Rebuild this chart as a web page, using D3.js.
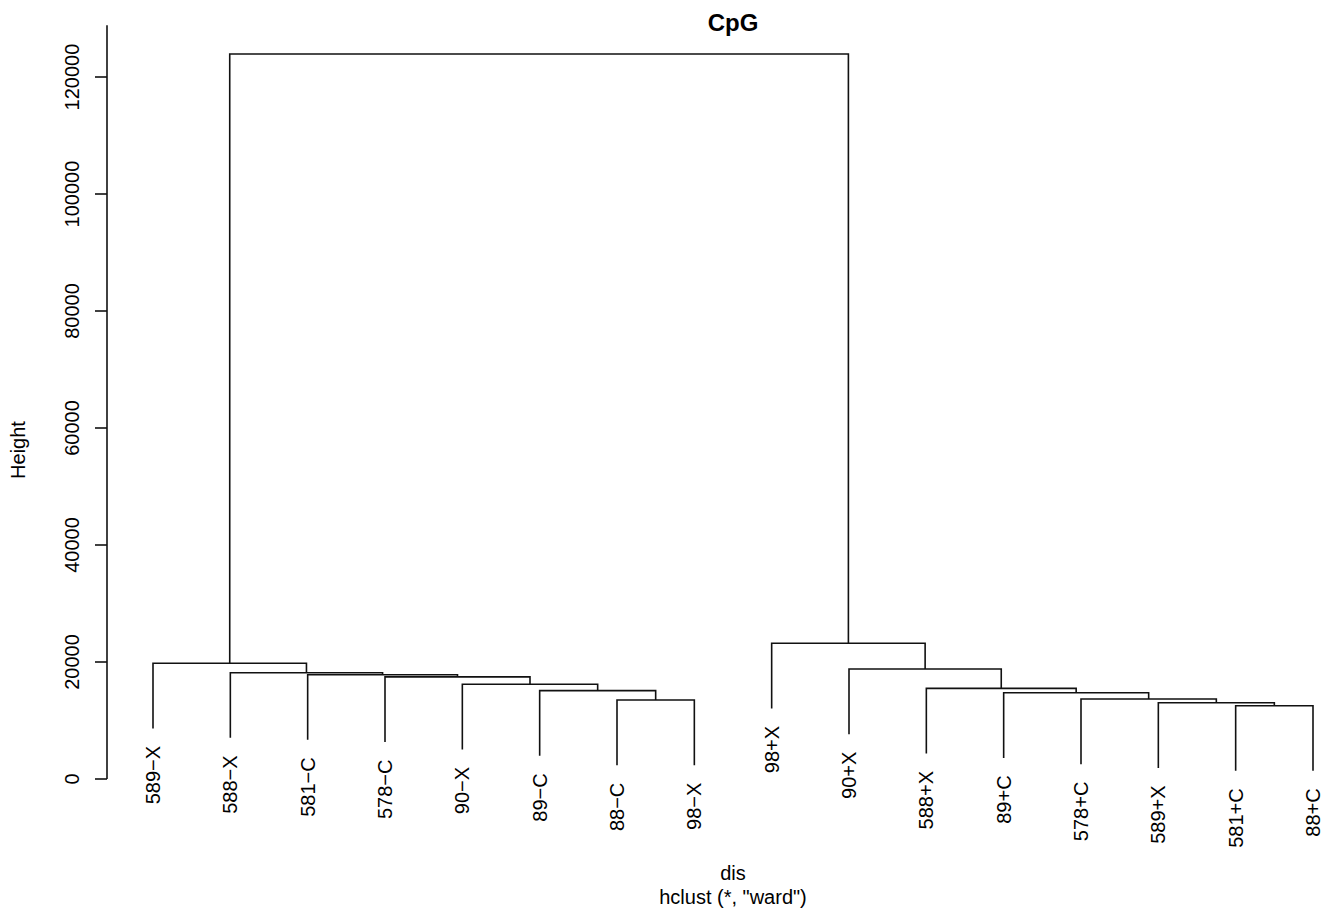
<!DOCTYPE html>
<html>
<head>
<meta charset="utf-8">
<script src="https://cdn.jsdelivr.net/npm/d3@7"></script>
<style>
  body { margin: 0; background: #fff; }
  svg text { font-family: "Liberation Sans", Arial, Helvetica, sans-serif; fill: #000; }
</style>
</head>
<body>
<svg id="chart" width="1328" height="915"></svg>
<script>
// leaf labels, left to right (dendrogram order)
const leafLabels = ["589\u2212X", "588\u2212X", "581\u2212C", "578\u2212C", "90\u2212X", "89\u2212C", "88\u2212C", "98\u2212X",
  "98+X", "90+X", "588+X", "89+C", "578+C", "589+X", "581+C", "88+C"];

// hclust style merge table: negative = leaf position, positive = earlier merge
const mergeA = [-15, -14, -7, -13, -12, -6, -11, -5, -4, -3, -2, -10, -1, -9, 13];
const mergeB = [-16, 1, -8, 2, 4, 3, 5, 6, 8, 9, 10, 7, 11, 12, 14];
const mergeHeight = [12530, 13040, 13500, 13680, 14750, 15100, 15500, 16190, 17450, 17830, 18170, 18800, 19780, 23200, 123930];

const yTicks = [0, 20000, 40000, 60000, 80000, 100000, 120000];

const svg = d3.select("#chart");
const n = leafLabels.length;

const x = d3.scaleLinear().domain([1, n]).range([153, 1313]);
const y = d3.scaleLinear().domain([0, 120000]).range([779, 77]);

const hMin = d3.min(mergeHeight), hMax = d3.max(mergeHeight);
const hang = 0.1 * (hMax - hMin);
const yTopValue = hMax + 0.04 * 1.1 * (hMax - hMin);

// compute merge centres
const centre = [];
function pos(id) {
  return id < 0 ? { x: id * -1, h: null } : { x: centre[id - 1], h: mergeHeight[id - 1] };
}

const g = svg.append("g")
  .attr("fill", "none")
  .attr("stroke", "#111")
  .attr("stroke-width", 1.6);

const leaves = [];
mergeHeight.forEach(function(h, i) {
  const a = pos(mergeA[i]), b = pos(mergeB[i]);
  centre.push((a.x + b.x) / 2);
  const ya = a.h === null ? h - hang : a.h;
  const yb = b.h === null ? h - hang : b.h;
  if (a.h === null) leaves.push({ i: a.x, bottom: ya });
  if (b.h === null) leaves.push({ i: b.x, bottom: yb });
  g.append("path")
    .attr("d", "M" + x(a.x) + "," + y(ya) + "V" + y(h) + "H" + x(b.x) + "V" + y(yb));
});

// leaf labels
svg.append("g").selectAll("text")
  .data(leaves)
  .enter().append("text")
  .attr("transform", d => "translate(" + (x(d.i) + 7) + "," + (y(d.bottom) + 17.5) + ") rotate(-90)")
  .attr("text-anchor", "end")
  .style("font-size", "20px")
  .text(d => leafLabels[d.i - 1]);

// y axis
const axis = svg.append("g");
axis.append("line")
  .attr("x1", 107).attr("x2", 107)
  .attr("y1", y(0)).attr("y2", y(yTopValue))
  .attr("stroke", "#111").attr("stroke-width", 1.6);
axis.selectAll(".tick")
  .data(yTicks)
  .enter().append("line")
  .attr("x1", 95).attr("x2", 107)
  .attr("y1", d => y(d)).attr("y2", d => y(d))
  .attr("stroke", "#111").attr("stroke-width", 1.6);
axis.selectAll("text")
  .data(yTicks)
  .enter().append("text")
  .attr("transform", d => "translate(79," + y(d) + ") rotate(-90)")
  .attr("text-anchor", "middle")
  .style("font-size", "20px")
  .text(d => d);

svg.append("text")
  .attr("transform", "translate(25,450) rotate(-90)")
  .attr("text-anchor", "middle")
  .style("font-size", "20px")
  .text("Height");

// title and subtitles
svg.append("text")
  .attr("x", 733).attr("y", 31)
  .attr("text-anchor", "middle")
  .style("font-size", "24px").style("font-weight", "bold")
  .text("CpG");

svg.append("text")
  .attr("x", 733).attr("y", 880)
  .attr("text-anchor", "middle")
  .style("font-size", "20px")
  .text("dis");

svg.append("text")
  .attr("x", 733).attr("y", 904)
  .attr("text-anchor", "middle")
  .style("font-size", "20px")
  .text("hclust (*, \"ward\")");
</script>
</body>
</html>
